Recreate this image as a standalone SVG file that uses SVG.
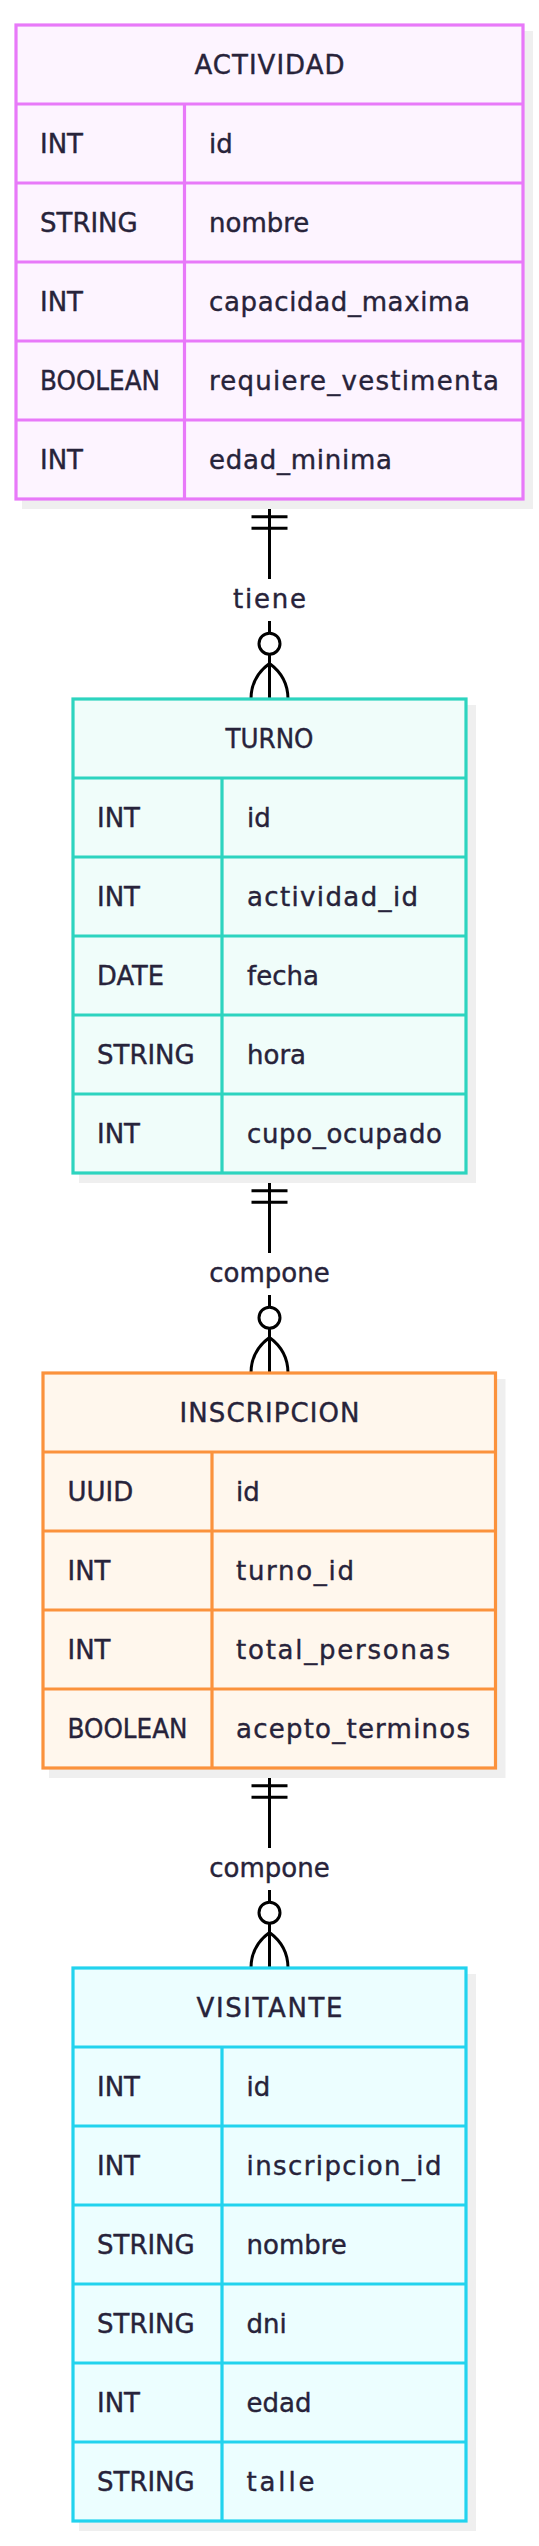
<svg xmlns="http://www.w3.org/2000/svg" width="539" height="2546" viewBox="0 0 539 2546">
<style>
text{font-family:"DejaVu Sans","Liberation Sans",sans-serif;font-size:26px;fill:#27233a;stroke:#27233a;stroke-width:0.4}
.t{text-anchor:middle}
.sh{fill:#efefef}
.ln{stroke-width:3.2;fill:none}
.a .bx,.a .ln{stroke:#e879f9}.a .bx{fill:#fdf4ff}
.b .bx,.b .ln{stroke:#2dd4bf}.b .bx{fill:#f0fdfa}
.c .bx,.c .ln{stroke:#fb923c}.c .bx{fill:#fff7ed}
.d .bx,.d .ln{stroke:#22d3ee}.d .bx{fill:#ecfeff}
.bx{stroke-width:3.2}
.cn{stroke:#000;stroke-width:3;fill:none}
.cc{stroke:#000;stroke-width:3;fill:#fff}
</style>
<rect width="539" height="2546" fill="#fff"/>
<g id="connectors">
<g id="rel-tiene">
<path class="cn" d="M269.5,499V699M251.5,516.7H287.5M251.5,528.3H287.5M269.5,663.5Q251,677 251,699M269.5,663.5Q288,677 288,699"/>
<rect x="228" y="579" width="83" height="42" fill="#fff"/>
<circle class="cc" cx="269.5" cy="643.7" r="10.5"/>
<text class="t" x="269.5" y="607.7" textLength="73">tiene</text>
</g>
<g id="rel-compone-1">
<path class="cn" d="M269.5,1173V1373M251.5,1190.7H287.5M251.5,1202.3H287.5M269.5,1337.5Q251,1351 251,1373M269.5,1337.5Q288,1351 288,1373"/>
<rect x="205" y="1253" width="129" height="42" fill="#fff"/>
<circle class="cc" cx="269.5" cy="1317.7" r="10.5"/>
<text class="t" x="269.5" y="1281.7">compone</text>
</g>
<g id="rel-compone-2">
<path class="cn" d="M269.5,1768V1968M251.5,1785.7H287.5M251.5,1797.3H287.5M269.5,1932.5Q251,1946 251,1968M269.5,1932.5Q288,1946 288,1968"/>
<rect x="205" y="1848" width="129" height="42" fill="#fff"/>
<circle class="cc" cx="269.5" cy="1912.7" r="10.5"/>
<text class="t" x="269.5" y="1876.7">compone</text>
</g>
</g>
<g id="ACTIVIDAD" class="a">
<rect class="sh" x="22" y="31" width="511" height="478"/>
<rect class="bx" x="16" y="25" width="507" height="474"/>
<path class="ln" d="M16,104H523M16,183H523M16,262H523M16,341H523M16,420H523M184.5,104V499"/>
<text class="t" x="269.5" y="74" textLength="150">ACTIVIDAD</text>
<text x="40" y="153">INT</text><text x="209" y="153">id</text>
<text x="40" y="232">STRING</text><text x="209" y="232">nombre</text>
<text x="40" y="311">INT</text><text x="209" y="311" textLength="261">capacidad_maxima</text>
<text x="40" y="390" textLength="120" lengthAdjust="spacingAndGlyphs">BOOLEAN</text><text x="209" y="390" textLength="290">requiere_vestimenta</text>
<text x="40" y="469">INT</text><text x="209" y="469" textLength="183">edad_minima</text>
</g>
<g id="TURNO" class="b">
<rect class="sh" x="79" y="705" width="397" height="478"/>
<rect class="bx" x="73" y="699" width="393" height="474"/>
<path class="ln" d="M73,778H466M73,857H466M73,936H466M73,1015H466M73,1094H466M222,778V1173"/>
<text class="t" x="269.5" y="748" textLength="88" lengthAdjust="spacingAndGlyphs">TURNO</text>
<text x="97" y="827">INT</text><text x="247" y="827">id</text>
<text x="97" y="906">INT</text><text x="247" y="906" textLength="171">actividad_id</text>
<text x="97" y="985" textLength="67" lengthAdjust="spacingAndGlyphs">DATE</text><text x="247" y="985">fecha</text>
<text x="97" y="1064">STRING</text><text x="247" y="1064">hora</text>
<text x="97" y="1143">INT</text><text x="247" y="1143" textLength="195">cupo_ocupado</text>
</g>
<g id="INSCRIPCION" class="c">
<rect class="sh" x="49" y="1379" width="456.5" height="399"/>
<rect class="bx" x="43" y="1373" width="452.5" height="395"/>
<path class="ln" d="M43,1452H495.5M43,1531H495.5M43,1610H495.5M43,1689H495.5M212,1452V1768"/>
<text class="t" x="269.5" y="1422" textLength="180">INSCRIPCION</text>
<text x="67.5" y="1501">UUID</text><text x="236" y="1501">id</text>
<text x="67.5" y="1580">INT</text><text x="236" y="1580" textLength="118">turno_id</text>
<text x="67.5" y="1659">INT</text><text x="236" y="1659" textLength="214">total_personas</text>
<text x="67.5" y="1738" textLength="120" lengthAdjust="spacingAndGlyphs">BOOLEAN</text><text x="236" y="1738" textLength="234">acepto_terminos</text>
</g>
<g id="VISITANTE" class="d">
<rect class="sh" x="79" y="1974" width="397" height="557"/>
<rect class="bx" x="73" y="1968" width="393" height="553"/>
<path class="ln" d="M73,2047H466M73,2126H466M73,2205H466M73,2284H466M73,2363H466M73,2442H466M222,2047V2521"/>
<text class="t" x="269.5" y="2017" textLength="146">VISITANTE</text>
<text x="97" y="2096">INT</text><text x="246.5" y="2096">id</text>
<text x="97" y="2175">INT</text><text x="246.5" y="2175" textLength="195">inscripcion_id</text>
<text x="97" y="2254">STRING</text><text x="246.5" y="2254">nombre</text>
<text x="97" y="2333">STRING</text><text x="246.5" y="2333">dni</text>
<text x="97" y="2412">INT</text><text x="246.5" y="2412">edad</text>
<text x="97" y="2491">STRING</text><text x="246.5" y="2491" textLength="68">talle</text>
</g>
</svg>
